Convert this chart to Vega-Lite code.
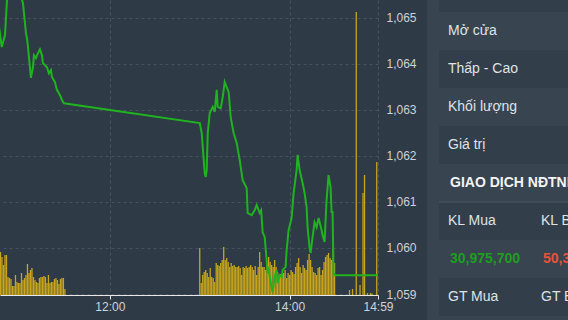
{
  "$schema": "https://vega.github.io/schema/vega-lite/v6.json",
  "background": "#2e3a46",
  "padding": 0,
  "spacing": 10,
  "config": {
    "view": {"stroke": null},
    "font": "Liberation Sans",
    "text": {"font": "Liberation Sans"}
  },
  "hconcat": [
    {
      "width": 378,
      "height": 295,
      "view": {"fill": "#2e3a46", "stroke": null},
      "layer": [
        {
          "data": {
            "format": {"parse": {"t": "date:'%H:%M:%S'"}},
            "values": [
              {"t": "10:47:00", "v": 430000}, {"t": "10:48:00", "v": 380000}, {"t": "10:49:00", "v": 300000}, {"t": "10:50:00", "v": 400000},
              {"t": "10:51:00", "v": 400000}, {"t": "10:52:00", "v": 180000}, {"t": "10:53:00", "v": 170000}, {"t": "10:54:00", "v": 160000},
              {"t": "10:55:00", "v": 90000}, {"t": "10:56:00", "v": 90000}, {"t": "10:57:00", "v": 200000}, {"t": "10:58:00", "v": 130000},
              {"t": "10:59:00", "v": 120000}, {"t": "11:00:00", "v": 120000}, {"t": "11:01:00", "v": 220000}, {"t": "11:02:00", "v": 150000},
              {"t": "11:03:00", "v": 170000}, {"t": "11:04:00", "v": 200000}, {"t": "11:05:00", "v": 310000}, {"t": "11:06:00", "v": 220000},
              {"t": "11:07:00", "v": 250000}, {"t": "11:08:00", "v": 270000}, {"t": "11:09:00", "v": 180000}, {"t": "11:10:00", "v": 150000},
              {"t": "11:11:00", "v": 130000}, {"t": "11:12:00", "v": 120000}, {"t": "11:13:00", "v": 170000}, {"t": "11:14:00", "v": 180000},
              {"t": "11:15:00", "v": 180000}, {"t": "11:16:00", "v": 190000}, {"t": "11:17:00", "v": 180000}, {"t": "11:18:00", "v": 120000},
              {"t": "11:19:00", "v": 200000}, {"t": "11:20:00", "v": 120000}, {"t": "11:21:00", "v": 130000}, {"t": "11:22:00", "v": 130000},
              {"t": "11:23:00", "v": 160000}, {"t": "11:24:00", "v": 170000}, {"t": "11:25:00", "v": 150000}, {"t": "11:26:00", "v": 110000},
              {"t": "11:27:00", "v": 160000}, {"t": "11:28:00", "v": 170000}, {"t": "11:29:00", "v": 170000}, {"t": "11:30:00", "v": 60000},
              {"t": "13:00:00", "v": 470000}, {"t": "13:01:00", "v": 120000}, {"t": "13:02:00", "v": 200000}, {"t": "13:03:00", "v": 230000},
              {"t": "13:04:00", "v": 250000}, {"t": "13:05:00", "v": 220000}, {"t": "13:06:00", "v": 180000}, {"t": "13:07:00", "v": 270000},
              {"t": "13:08:00", "v": 180000}, {"t": "13:09:00", "v": 170000}, {"t": "13:10:00", "v": 130000}, {"t": "13:11:00", "v": 320000},
              {"t": "13:12:00", "v": 300000}, {"t": "13:13:00", "v": 290000}, {"t": "13:14:00", "v": 320000}, {"t": "13:15:00", "v": 350000},
              {"t": "13:16:00", "v": 480000}, {"t": "13:17:00", "v": 350000}, {"t": "13:18:00", "v": 370000}, {"t": "13:19:00", "v": 330000},
              {"t": "13:20:00", "v": 280000}, {"t": "13:21:00", "v": 320000}, {"t": "13:22:00", "v": 290000}, {"t": "13:23:00", "v": 300000},
              {"t": "13:24:00", "v": 280000}, {"t": "13:25:00", "v": 280000}, {"t": "13:26:00", "v": 290000}, {"t": "13:27:00", "v": 270000},
              {"t": "13:28:00", "v": 200000}, {"t": "13:29:00", "v": 280000}, {"t": "13:30:00", "v": 270000}, {"t": "13:31:00", "v": 290000},
              {"t": "13:32:00", "v": 270000}, {"t": "13:33:00", "v": 280000}, {"t": "13:34:00", "v": 300000}, {"t": "13:35:00", "v": 280000},
              {"t": "13:36:00", "v": 250000}, {"t": "13:37:00", "v": 290000}, {"t": "13:38:00", "v": 200000}, {"t": "13:39:00", "v": 280000},
              {"t": "13:40:00", "v": 430000}, {"t": "13:41:00", "v": 330000}, {"t": "13:42:00", "v": 280000}, {"t": "13:43:00", "v": 280000},
              {"t": "13:44:00", "v": 250000}, {"t": "13:45:00", "v": 300000}, {"t": "13:46:00", "v": 380000}, {"t": "13:47:00", "v": 330000},
              {"t": "13:48:00", "v": 300000}, {"t": "13:49:00", "v": 280000}, {"t": "13:50:00", "v": 350000}, {"t": "13:51:00", "v": 280000},
              {"t": "13:52:00", "v": 230000}, {"t": "13:53:00", "v": 200000}, {"t": "13:54:00", "v": 210000}, {"t": "13:55:00", "v": 210000},
              {"t": "13:56:00", "v": 220000}, {"t": "13:57:00", "v": 250000}, {"t": "13:58:00", "v": 170000}, {"t": "13:59:00", "v": 220000},
              {"t": "14:00:00", "v": 200000}, {"t": "14:01:00", "v": 250000}, {"t": "14:02:00", "v": 230000}, {"t": "14:03:00", "v": 210000},
              {"t": "14:04:00", "v": 280000}, {"t": "14:05:00", "v": 320000}, {"t": "14:06:00", "v": 370000}, {"t": "14:07:00", "v": 280000},
              {"t": "14:08:00", "v": 220000}, {"t": "14:09:00", "v": 300000}, {"t": "14:10:00", "v": 270000}, {"t": "14:11:00", "v": 250000},
              {"t": "14:12:00", "v": 350000}, {"t": "14:13:00", "v": 410000}, {"t": "14:14:00", "v": 350000}, {"t": "14:15:00", "v": 280000},
              {"t": "14:16:00", "v": 230000}, {"t": "14:17:00", "v": 220000}, {"t": "14:18:00", "v": 200000}, {"t": "14:19:00", "v": 270000},
              {"t": "14:20:00", "v": 280000}, {"t": "14:21:00", "v": 200000}, {"t": "14:22:00", "v": 250000}, {"t": "14:23:00", "v": 330000},
              {"t": "14:24:00", "v": 380000}, {"t": "14:25:00", "v": 400000}, {"t": "14:26:00", "v": 420000}, {"t": "14:27:00", "v": 370000},
              {"t": "14:28:00", "v": 350000}, {"t": "14:29:00", "v": 480000}, {"t": "14:30:00", "v": 320000},
              {"t": "14:40:00", "v": 50000}, {"t": "14:42:00", "v": 60000}, {"t": "14:44:30", "v": 2830000}, {"t": "14:47:00", "v": 100000},
              {"t": "14:49:00", "v": 1020000}, {"t": "14:50:00", "v": 1200000}, {"t": "14:52:00", "v": 20000}, {"t": "14:54:00", "v": 20000},
              {"t": "14:55:00", "v": 15000}, {"t": "14:58:10", "v": 1330000}
            ]
          },
          "mark": {"type": "bar", "width": 1.3, "color": "#c8a51b", "clip": true},
          "encoding": {
            "x": {
              "field": "t",
              "type": "temporal",
              "scale": {
                "padding": 0,
                "domain": [
                  {"year": 1900, "month": 1, "date": 1, "hours": 10, "minutes": 46, "seconds": 40},
                  {"year": 1900, "month": 1, "date": 1, "hours": 14, "minutes": 59, "seconds": 0}
                ]
              },
              "axis": {
                "title": null,
                "values": [
                  {"year": 1900, "month": 1, "date": 1, "hours": 12, "minutes": 0},
                  {"year": 1900, "month": 1, "date": 1, "hours": 14, "minutes": 0},
                  {"year": 1900, "month": 1, "date": 1, "hours": 14, "minutes": 59}
                ],
                "format": "%H:%M",
                "domainColor": "#e8e8e8",
                "tickColor": "#e8e8e8",
                "tickSize": 4,
                "labelColor": "#cfd3d7",
                "labelFontSize": 12,
                "labelPadding": 2,
                "labelFlush": false,
                "labelOverlap": false,
                "grid": true,
                "gridColor": "#46525e",
                "gridDash": [3, 3]
              }
            },
            "y": {
              "field": "v",
              "type": "quantitative",
              "scale": {"domain": [0, 2950000], "nice": false},
              "axis": null
            }
          }
        },
        {
          "data": {
            "format": {"parse": {"t": "date:'%H:%M:%S'"}},
            "values": [
              {"t": "10:46:00", "p": 1064.80}, {"t": "10:47:50", "p": 1064.36}, {"t": "10:50:00", "p": 1064.62}, {"t": "10:51:20", "p": 1065.38},
              {"t": "10:53:30", "p": 1065.90}, {"t": "10:57:00", "p": 1066.10}, {"t": "11:00:00", "p": 1065.70}, {"t": "11:01:20", "p": 1065.38},
              {"t": "11:02:00", "p": 1065.31}, {"t": "11:04:00", "p": 1064.66}, {"t": "11:04:40", "p": 1064.55}, {"t": "11:05:20", "p": 1064.36},
              {"t": "11:07:20", "p": 1063.69}, {"t": "11:08:40", "p": 1063.92}, {"t": "11:09:20", "p": 1064.18}, {"t": "11:10:40", "p": 1064.12},
              {"t": "11:11:20", "p": 1064.18}, {"t": "11:13:20", "p": 1064.31}, {"t": "11:14:40", "p": 1064.18}, {"t": "11:15:20", "p": 1064.01},
              {"t": "11:18:00", "p": 1063.92}, {"t": "11:19:20", "p": 1063.79}, {"t": "11:20:40", "p": 1063.86}, {"t": "11:21:20", "p": 1063.71},
              {"t": "11:23:20", "p": 1063.60}, {"t": "11:24:40", "p": 1063.43}, {"t": "11:26:00", "p": 1063.36}, {"t": "11:27:20", "p": 1063.27},
              {"t": "11:28:00", "p": 1063.21}, {"t": "11:29:20", "p": 1063.14},
              {"t": "13:00:00", "p": 1062.71}, {"t": "13:01:20", "p": 1062.49}, {"t": "13:02:40", "p": 1061.91}, {"t": "13:03:20", "p": 1061.62},
              {"t": "13:04:00", "p": 1061.54}, {"t": "13:04:40", "p": 1061.69}, {"t": "13:05:20", "p": 1062.49}, {"t": "13:06:40", "p": 1062.93},
              {"t": "13:08:40", "p": 1063.06}, {"t": "13:10:00", "p": 1062.95}, {"t": "13:11:20", "p": 1063.43}, {"t": "13:12:00", "p": 1063.06},
              {"t": "13:14:00", "p": 1063.03}, {"t": "13:15:20", "p": 1063.27}, {"t": "13:16:40", "p": 1063.60}, {"t": "13:18:00", "p": 1063.49},
              {"t": "13:19:20", "p": 1063.38}, {"t": "13:20:40", "p": 1062.84}, {"t": "13:22:40", "p": 1062.49}, {"t": "13:24:40", "p": 1062.28},
              {"t": "13:26:40", "p": 1061.91}, {"t": "13:28:40", "p": 1061.47}, {"t": "13:31:20", "p": 1061.30}, {"t": "13:32:00", "p": 1060.76},
              {"t": "13:34:40", "p": 1060.71}, {"t": "13:36:40", "p": 1060.82}, {"t": "13:38:00", "p": 1060.93}, {"t": "13:40:00", "p": 1060.76},
              {"t": "13:41:00", "p": 1060.82}, {"t": "13:42:00", "p": 1060.34}, {"t": "13:43:20", "p": 1060.24}, {"t": "13:44:40", "p": 1059.74},
              {"t": "13:45:20", "p": 1059.46}, {"t": "13:46:00", "p": 1059.52}, {"t": "13:48:00", "p": 1059.15}, {"t": "13:48:40", "p": 1059.04},
              {"t": "13:50:00", "p": 1059.37}, {"t": "13:51:20", "p": 1059.52}, {"t": "13:52:00", "p": 1059.24}, {"t": "13:53:20", "p": 1059.41},
              {"t": "13:54:40", "p": 1059.37}, {"t": "13:55:20", "p": 1059.52}, {"t": "13:57:20", "p": 1059.59}, {"t": "13:58:00", "p": 1059.95},
              {"t": "13:59:20", "p": 1060.39}, {"t": "14:01:20", "p": 1060.65}, {"t": "14:02:40", "p": 1061.19}, {"t": "14:04:40", "p": 1061.69},
              {"t": "14:05:20", "p": 1062.02}, {"t": "14:06:40", "p": 1061.69}, {"t": "14:08:40", "p": 1061.41}, {"t": "14:10:00", "p": 1061.19},
              {"t": "14:11:20", "p": 1060.89}, {"t": "14:12:00", "p": 1060.45}, {"t": "14:13:20", "p": 1060.00}, {"t": "14:14:00", "p": 1059.89},
              {"t": "14:15:20", "p": 1060.24}, {"t": "14:16:40", "p": 1060.56}, {"t": "14:18:00", "p": 1060.45}, {"t": "14:19:20", "p": 1060.65},
              {"t": "14:21:20", "p": 1060.39}, {"t": "14:22:00", "p": 1060.28}, {"t": "14:23:20", "p": 1060.13}, {"t": "14:24:40", "p": 1061.04},
              {"t": "14:26:00", "p": 1061.58}, {"t": "14:27:20", "p": 1061.32}, {"t": "14:28:00", "p": 1060.78}, {"t": "14:28:40", "p": 1060.78},
              {"t": "14:29:20", "p": 1059.46}, {"t": "14:30:00", "p": 1059.41}, {"t": "14:59:00", "p": 1059.41}
            ]
          },
          "mark": {"type": "line", "color": "#1fb41f", "strokeWidth": 2, "clip": true},
          "encoding": {
            "x": {"field": "t", "type": "temporal"},
            "y": {
              "field": "p",
              "type": "quantitative",
              "scale": {"domain": [1058.98, 1065.38], "nice": false, "zero": false},
              "axis": {
                "orient": "right",
                "title": null,
                "values": [1059, 1060, 1061, 1062, 1063, 1064, 1065],
                "format": ",d",
                "ticks": false,
                "domain": false,
                "labelPadding": 8,
                "labelFontSize": 12,
                "labelColor": "#cfd3d7",
                "labelBaseline": "middle",
                "grid": true,
                "gridColor": "#46525e",
                "gridDash": [3, 3]
              }
            }
          }
        }
      ],
      "resolve": {"scale": {"y": "independent"}}
    },
    {
      "width": 142,
      "height": 320,
      "view": {"fill": "#384450", "stroke": null},
      "layer": [
        {
          "data": {
            "values": [
              {"row": "r0", "col": "c1"}, {"row": "r0", "col": "c2"},
              {"row": "r2", "col": "c1"}, {"row": "r2", "col": "c2"},
              {"row": "r4", "col": "c1"}, {"row": "r4", "col": "c2"},
              {"row": "r6", "col": "c1"}, {"row": "r6", "col": "c2"},
              {"row": "r8", "col": "c1"}, {"row": "r8", "col": "c2"}
            ]
          },
          "mark": {"type": "rect", "color": "#323e4a", "clip": true},
          "encoding": {
            "x": {
              "field": "col",
              "type": "nominal",
              "scale": {"domain": ["c1", "c2"], "range": [12, 198], "paddingInner": 0, "paddingOuter": 0},
              "axis": null
            },
            "y": {
              "field": "row",
              "type": "nominal",
              "scale": {
                "domain": ["r0", "r1", "r2", "r3", "r4", "r5", "r6", "r7", "r8", "r9"],
                "range": [-26, 354],
                "paddingInner": 0,
                "paddingOuter": 0
              },
              "axis": null
            }
          }
        },
        {
          "data": {"values": [{"row": "r6", "col": "c1"}]},
          "mark": {"type": "rule", "color": "#4d5965", "strokeWidth": 1},
          "encoding": {
            "x": {"field": "col", "type": "nominal", "bandPosition": 0},
            "x2": {"value": "width"},
            "y": {"field": "row", "type": "nominal", "bandPosition": 0}
          }
        },
        {
          "data": {
            "values": [
              {"row": "r1", "col": "c1", "label": "Mở cửa"},
              {"row": "r2", "col": "c1", "label": "Thấp - Cao"},
              {"row": "r3", "col": "c1", "label": "Khối lượng"},
              {"row": "r4", "col": "c1", "label": "Giá trị"},
              {"row": "r6", "col": "c1", "label": "KL Mua"},
              {"row": "r6", "col": "c2", "label": "KL Bán"},
              {"row": "r8", "col": "c1", "label": "GT Mua"},
              {"row": "r8", "col": "c2", "label": "GT Bán"}
            ]
          },
          "mark": {"type": "text", "align": "left", "baseline": "middle", "dx": 9, "fontSize": 14, "color": "#dfe3e7", "clip": true},
          "encoding": {
            "x": {"field": "col", "type": "nominal", "bandPosition": 0},
            "y": {"field": "row", "type": "nominal"},
            "text": {"field": "label"}
          }
        },
        {
          "data": {
            "values": [
              {"row": "r5", "col": "c1", "label": "GIAO DỊCH NĐTNN", "kind": "header"},
              {"row": "r7", "col": "c1", "label": "30,975,700", "kind": "buy"},
              {"row": "r7", "col": "c2", "label": "50,3", "kind": "sell"}
            ]
          },
          "mark": {"type": "text", "align": "left", "baseline": "middle", "dx": 11, "fontSize": 14, "fontWeight": "bold", "clip": true},
          "encoding": {
            "x": {"field": "col", "type": "nominal", "bandPosition": 0},
            "y": {"field": "row", "type": "nominal"},
            "text": {"field": "label"},
            "color": {
              "field": "kind",
              "type": "nominal",
              "scale": {"domain": ["header", "buy", "sell"], "range": ["#f4f4f4", "#1d9e1d", "#e5533d"]},
              "legend": null
            }
          }
        }
      ]
    }
  ]
}
